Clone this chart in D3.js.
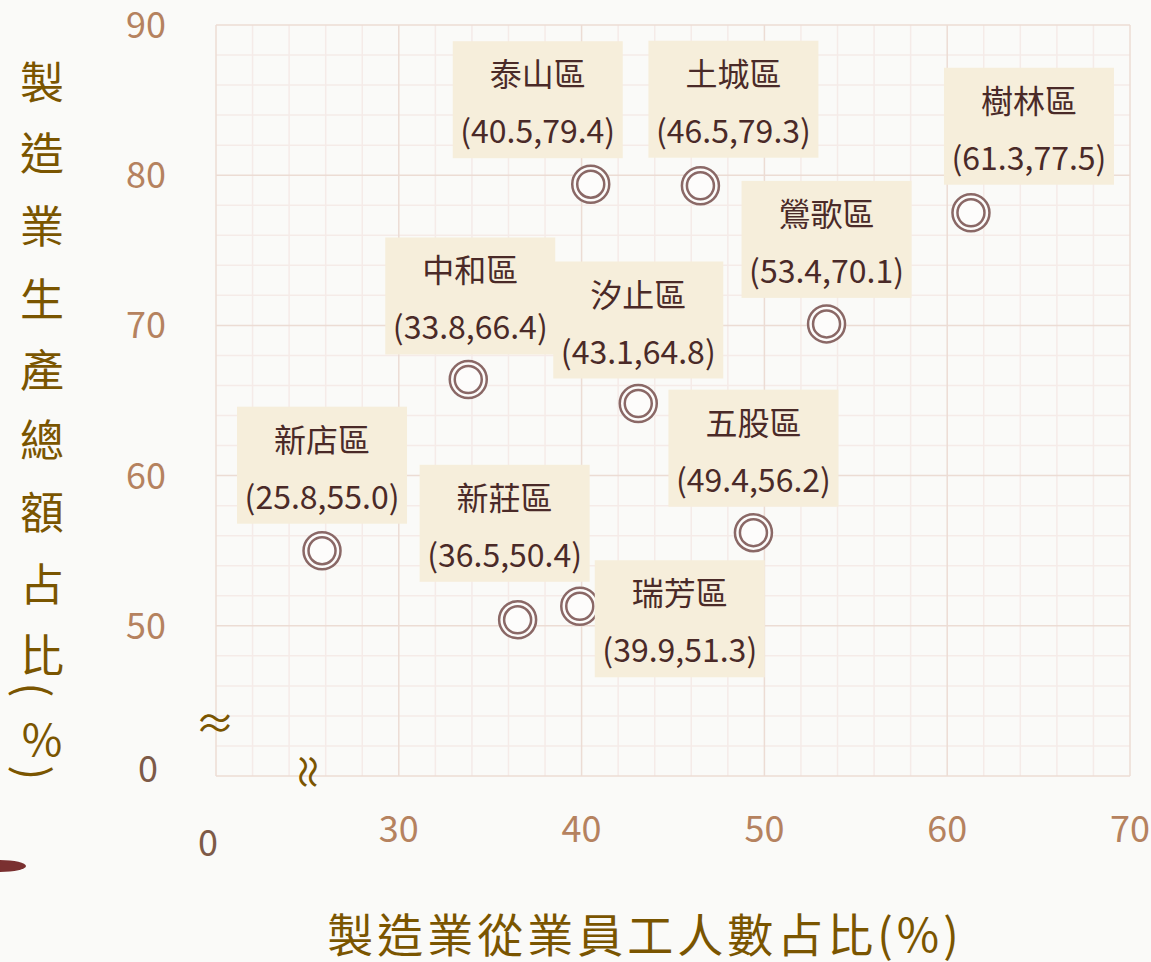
<!DOCTYPE html>
<html>
<head>
<meta charset="utf-8">
<script src="https://cdn.jsdelivr.net/npm/d3@7"></script>
<style>
  body { margin: 0; background: #fafaf8; }
  svg { display: block; font-family: "Noto Sans CJK TC", "Noto Sans", sans-serif; }
</style>
</head>
<body>
<svg id="chart" width="1151" height="962"></svg>
<script>
// districts and their values (x = 從業員工人數占比, y = 生產總額占比)
const districts = ["新店區", "新莊區", "瑞芳區", "中和區", "汐止區", "泰山區", "土城區", "樹林區", "鶯歌區", "五股區"];
const workerShare = [25.8, 36.5, 39.9, 33.8, 43.1, 40.5, 46.5, 61.3, 53.4, 49.4];
const outputShare = [55.0, 50.4, 51.3, 66.4, 64.8, 79.4, 79.3, 77.5, 70.1, 56.2];
const xTicks = [30, 40, 50, 60, 70];
const yTicks = [50, 60, 70, 80, 90];
const xTitle = "製造業從業員工人數占比(%)";
const yTitle = ["製", "造", "業", "生", "產", "總", "額", "占", "比", "(", "%", ")"];

// label box placement (box centre offset from point, box bottom offset)
const labelPos = {
  "新店區": [0, -27], "新莊區": [-13, -38], "瑞芳區": [100, 71], "中和區": [2, -25],
  "汐止區": [0, -25], "泰山區": [-53, -26], "土城區": [33, -28], "樹林區": [58, -28],
  "鶯歌區": [0, -26], "五股區": [0, -26]
};

const data = districts.map((d, i) => ({ name: d, x: workerShare[i], y: outputShare[i] }));

const svg = d3.select("#chart");
const pl = 216, pr = 1130, pt = 25, pb = 776;

const x = d3.scaleLinear().domain([20, 70]).range([pl, pr]);
const y = d3.scaleLinear().domain([40, 90]).range([pb, pt]);

svg.append("rect").attr("width", 1151).attr("height", 962).attr("fill", "#fafaf8");

// grid
const grid = svg.append("g");
const minorX = d3.range(20, 71, 2), minorY = d3.range(40, 91, 2);
grid.selectAll(".mx").data(minorX.filter(v => v % 10 !== 0)).join("line")
  .attr("x1", d => x(d)).attr("x2", d => x(d)).attr("y1", pt).attr("y2", pb)
  .attr("stroke", "#f5ebe8").attr("stroke-width", 1.5);
grid.selectAll(".my").data(minorY.filter(v => v % 10 !== 0)).join("line")
  .attr("y1", d => y(d)).attr("y2", d => y(d)).attr("x1", pl).attr("x2", pr)
  .attr("stroke", "#f5ebe8").attr("stroke-width", 1.5);
grid.selectAll(".Mx").data(d3.range(20, 71, 10)).join("line")
  .attr("x1", d => x(d)).attr("x2", d => x(d)).attr("y1", pt).attr("y2", pb)
  .attr("stroke", "#ecdcd4").attr("stroke-width", 1.5);
grid.selectAll(".My").data(d3.range(40, 91, 10)).join("line")
  .attr("y1", d => y(d)).attr("y2", d => y(d)).attr("x1", pl).attr("x2", pr)
  .attr("stroke", "#ecdcd4").attr("stroke-width", 1.5);

// tick labels
svg.append("g").selectAll("text").data(xTicks).join("text")
  .attr("x", d => x(d)).attr("y", 842)
  .attr("text-anchor", "middle").attr("font-size", 36).attr("fill", "#b5825f")
  .text(d => d);
svg.append("g").selectAll("text").data(yTicks).join("text")
  .attr("x", 166).attr("y", d => y(d) + 13)
  .attr("text-anchor", "end").attr("font-size", 36).attr("fill", "#b5825f")
  .text(d => d);
svg.append("text").attr("x", 208).attr("y", 856).attr("text-anchor", "middle")
  .attr("font-size", 36).attr("fill", "#7d5a48").text("0");
svg.append("text").attr("x", 148).attr("y", 782).attr("text-anchor", "middle")
  .attr("font-size", 36).attr("fill", "#7d5a48").text("0");

// axis break marks
svg.append("text").attr("x", 215).attr("y", 738).attr("text-anchor", "middle")
  .attr("font-size", 40).attr("fill", "#7a5500").text("≈");
svg.append("text").attr("transform", "translate(305,772) rotate(90)")
  .attr("text-anchor", "middle").attr("y", 12)
  .attr("font-size", 40).attr("fill", "#7a5500").text("≈");

// axis titles
svg.append("text").attr("x", 645).attr("y", 952).attr("text-anchor", "middle")
  .attr("font-size", 46).attr("letter-spacing", 4).attr("fill", "#7a5500").text(xTitle);
const yPos = [80, 151, 224, 297, 368, 438, 510, 582, 653, 690, 737, 773];
svg.append("g").selectAll("text").data(yTitle).join("text")
  .attr("transform", (d, i) => `translate(${d === "(" || d === ")" ? 36 : 42},${yPos[i]})` + (d === "(" || d === ")" ? " rotate(90)" : ""))
  .attr("dominant-baseline", "central")
  .attr("text-anchor", "middle").attr("font-size", 44).attr("fill", "#7a5500")
  .text(d => d);

// decoration at lower left
svg.append("ellipse").attr("cx", 0).attr("cy", 866).attr("rx", 26).attr("ry", 6).attr("fill", "#7a3030");

// points
const pts = svg.append("g");
pts.selectAll(".outer").data(data).join("circle")
  .attr("cx", d => x(d.x)).attr("cy", d => y(d.y)).attr("r", 18.5)
  .attr("fill", "#fdfcfb").attr("stroke", "#8a6866").attr("stroke-width", 2.5);
pts.selectAll(".inner").data(data).join("circle")
  .attr("cx", d => x(d.x)).attr("cy", d => y(d.y)).attr("r", 13.5)
  .attr("fill", "none").attr("stroke", "#8a6866").attr("stroke-width", 2.5);

// labels
const bw = 170, bh = 117;
const lab = svg.append("g").selectAll("g").data(data).join("g")
  .attr("transform", d => {
    const o = labelPos[d.name];
    return `translate(${x(d.x) + o[0] - bw / 2},${y(d.y) + o[1] - bh})`;
  });
lab.append("rect").attr("width", bw).attr("height", bh).attr("fill", "#f6eedb");
lab.append("text").attr("x", bw / 2).attr("y", 45).attr("text-anchor", "middle")
  .attr("font-size", 32).attr("fill", "#4a2a28").text(d => d.name);
lab.append("text").attr("x", bw / 2).attr("y", 102).attr("text-anchor", "middle")
  .attr("font-size", 32).attr("fill", "#4a2a28")
  .text(d => `(${d.x.toFixed(1)},${d.y.toFixed(1)})`);
</script>
</body>
</html>
